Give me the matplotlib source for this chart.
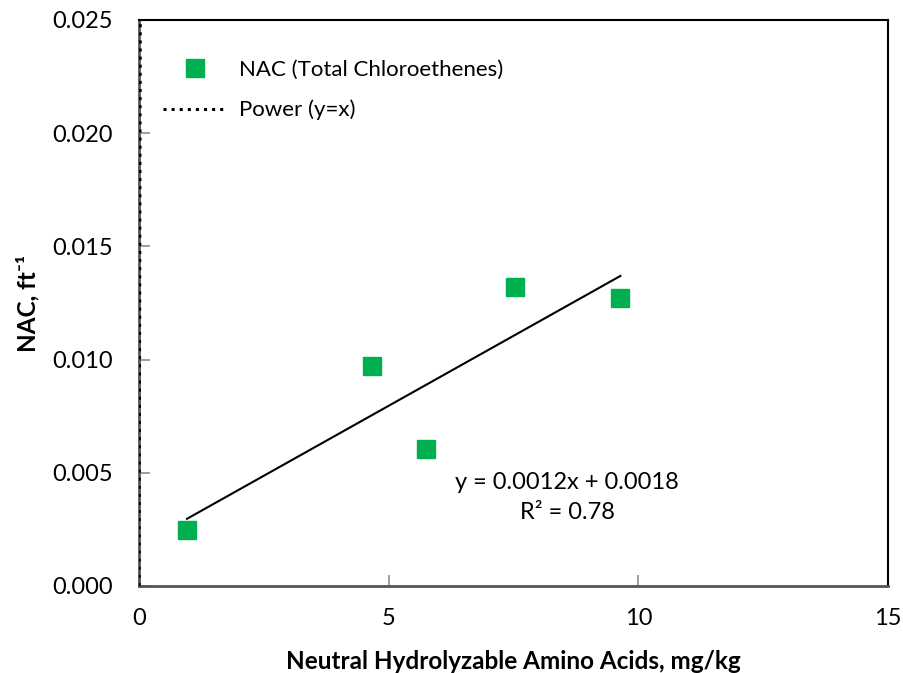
import numpy as np
import matplotlib.pyplot as plt

plt.rcParams['font.family'] = ['Lato', 'DejaVu Sans']

# amino acids (mg/kg) vs NAC (ft^-1)
nhaa = [0.96, 4.66, 5.74, 7.53, 9.64]
nac = [0.00247, 0.00972, 0.00605, 0.0132, 0.01272]

x_ticks = [0, 5, 10, 15]
y_ticks = [0.000, 0.005, 0.010, 0.015, 0.020, 0.025]

green = '#00B050'

fig = plt.figure(figsize=(9.04, 6.73), dpi=100)
ax = fig.add_axes([0.1538, 0.1293, 0.8285, 0.841])

ax.plot(nhaa, nac, 's', color=green, markersize=13.5, linestyle='none',
        label='NAC (Total Chloroethenes)', zorder=3)

# y = x reference, squeezed against the left axis at this scale
ref = np.array([0.0, 0.025])
ax.plot(ref, ref, ':', color='black', lw=2.2, label='Power (y=x)', zorder=4)

# least-squares trend line over the data range
slope, icpt = np.polyfit(nhaa, nac, 1)
pred = slope * np.array(nhaa) + icpt
r2 = 1 - np.sum((np.array(nac) - pred) ** 2) / np.sum((np.array(nac) - np.mean(nac)) ** 2)
xl = np.array([min(nhaa), max(nhaa)])
ax.plot(xl, slope * xl + icpt, '-', color='black', lw=1.5, zorder=2)

ax.text(8.57, 0.0039, f'y = {slope:.4f}x + {icpt:.4f}\nR² = {r2:.2f}',
        ha='center', va='center', fontsize=17, linespacing=1.55)

ax.set_xlim(0, 15)
ax.set_ylim(0, 0.025)
ax.set_xticks(x_ticks)
ax.set_yticks(y_ticks)
ax.set_yticklabels([f'{v:.3f}' for v in y_ticks])
ax.tick_params(direction='in', length=8, width=1.2, color='#8c8c8c',
               labelsize=17)
ax.tick_params(axis='y', pad=19)
ax.tick_params(axis='x', pad=16)

for side in ['top', 'right']:
    ax.spines[side].set_color('black')
    ax.spines[side].set_linewidth(1.5)
for side in ['left', 'bottom']:
    ax.spines[side].set_color('#555555')
    ax.spines[side].set_linewidth(2)

ax.set_xlabel('Neutral Hydrolyzable Amino Acids, mg/kg', fontsize=17.5,
              fontweight='bold', labelpad=15)
ax.set_ylabel('NAC, ft⁻¹', fontsize=17.5, fontweight='bold', labelpad=9)

ax.legend(loc='upper left', bbox_to_anchor=(0.005, 0.965), frameon=False,
          fontsize=16, handlelength=2.9, handletextpad=0.55,
          labelspacing=0.9)

fig.savefig('out.png', dpi=100)
